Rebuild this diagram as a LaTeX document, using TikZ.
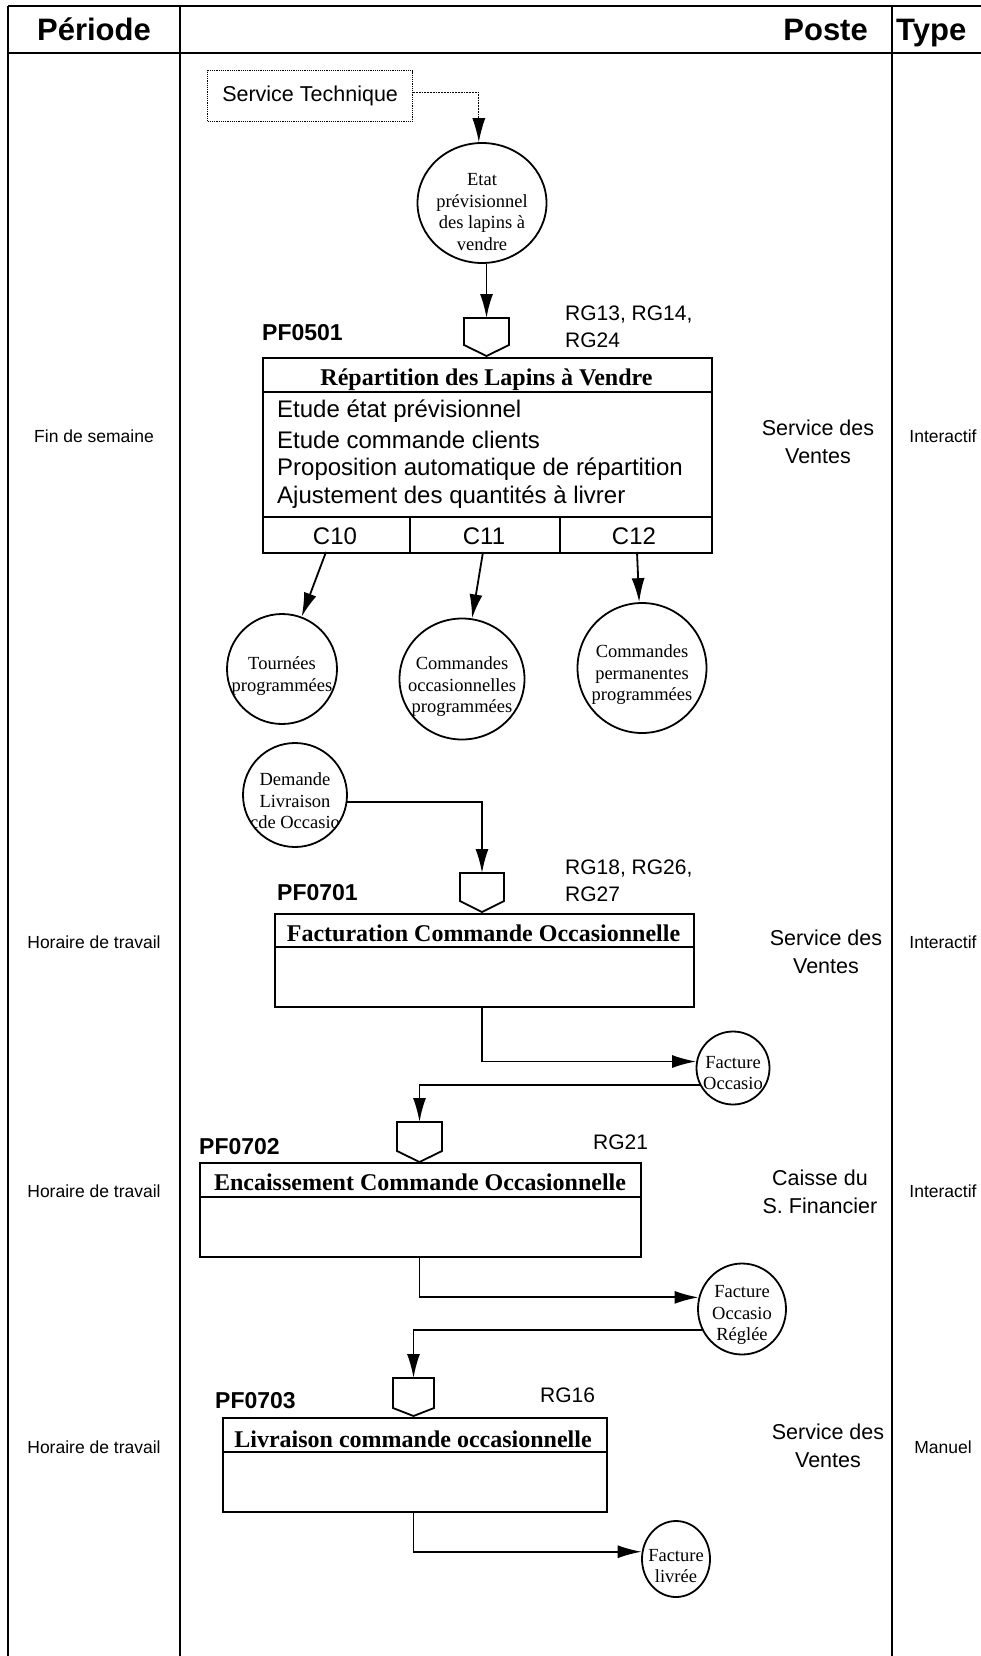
\documentclass[tikz,border=0pt]{standalone}
\usepackage{fontspec}
\setmainfont{Liberation Serif}
\setsansfont{Liberation Sans}
\usetikzlibrary{arrows.meta,shapes.geometric}
\tikzset{
 frame/.style={line width=2pt},
 ln/.style={line width=1.8pt},
 arr/.style={ln,-{Latex[length=24pt,width=13pt]}},
 txt/.style={inner sep=0pt},
 hdr/.style={txt,font=\sffamily\bfseries\fontsize{31}{36}\selectfont},
 side/.style={txt,font=\sffamily\fontsize{17.5}{21}\selectfont},
 poste/.style={txt,align=center,font=\sffamily\fontsize{21.5}{28}\selectfont},
 pf/.style={txt,anchor=west,font=\sffamily\bfseries\fontsize{23}{27}\selectfont},
 rg/.style={txt,anchor=west,align=left,font=\sffamily\fontsize{21}{27}\selectfont},
 ttl/.style={txt,font=\rmfamily\bfseries\fontsize{24}{28}\selectfont},
 body/.style={txt,anchor=west,font=\sffamily\fontsize{24}{29}\selectfont},
 store/.style={draw,ln,ellipse,inner sep=0pt},
 ctxt/.style={txt,align=center,font=\rmfamily\fontsize{18.5}{21.5}\selectfont},
 proc/.style={draw,ln,anchor=north west,inner sep=0pt},
}
\newcommand\pentg[6]{%
 \draw[ln] (#2,#4) -- (#3,#4) -- (#3,#5) -- ({(#2+#3)/2},#6) -- (#2,#5) -- cycle;
 \coordinate (#1) at ({(#2+#3)/2},#4);}
\newcommand\storenode[7]{%
 \node[store,minimum width=#4pt,minimum height=#5pt] (#1) at (#2,#3) {};
 \begin{scope}
 \clip (#2,#3) ellipse [x radius=#4pt/2, y radius=#5pt/2];
 \node[ctxt] (#1t) at (#2,{#3+#7}) {#6};
 \end{scope}}
\begin{document}
\begin{tikzpicture}[x=1pt,y=-1pt]
\useasboundingbox (0,0) rectangle (981,1656);
% frame
\draw[frame] (8,6) -- (981,6);
\draw[frame] (8,53) -- (981,53);
\draw[frame] (8,6) -- (8,1656);
\draw[frame] (180,6) -- (180,1656);
\draw[frame] (892,6) -- (892,1656);
\node[hdr,anchor=base] (hper) at (94,41) {Période};
\node[hdr,anchor=base east] (hpos) at (868,41) {Poste};
\node[hdr,anchor=base west] (htyp) at (896,41) {Type};
% side labels
\node[side] (per1) at (94,436) {Fin de semaine};
\node[side] (per2) at (94,942) {Horaire de travail};
\node[side] (per3) at (94,1191) {Horaire de travail};
\node[side] (per4) at (94,1447) {Horaire de travail};
\node[side] (typ1) at (943,436) {Interactif};
\node[side] (typ2) at (943,942) {Interactif};
\node[side] (typ3) at (943,1191) {Interactif};
\node[side] (typ4) at (943,1447) {Manuel};
\node[poste] (pos1) at (818,442) {Service des\\Ventes};
\node[poste] (pos2) at (826,952) {Service des\\Ventes};
\node[poste] (pos3) at (820,1192) {Caisse du\\S. Financier};
\node[poste] (pos4) at (828,1446) {Service des\\Ventes};
% Service technique
\node[draw,densely dotted,line width=1.2pt,anchor=north west,minimum width=205pt,minimum height=51pt,inner sep=0pt,
 font=\sffamily\fontsize{21.5}{26}\selectfont] (st) at (207,70) {Service Technique};
% stores
\storenode{etat}{482}{203}{129}{120}{Etat\\prévisionnel\\des lapins à\\vendre}{9}
\storenode{tour}{282}{669}{110}{110}{Tournées\\programmées}{7}
\storenode{occ}{462}{679}{125}{121}{Commandes\\occasionnelles\\programmées}{8}
\storenode{perm}{642}{668}{129}{130}{Commandes\\permanentes\\programmées}{7}
\storenode{dem}{295}{795}{104}{104}{Demande\\Livraison\\cde Occasio}{6}
\storenode{fo}{733}{1068}{73}{73}{Facture\\Occasio}{5}
\storenode{fr}{742}{1309}{88}{91}{Facture\\Occasio\\Réglée}{6}
\storenode{fl}{676}{1559}{68}{76}{Facture\\livrée}{7}
% pentagons
\pentg{p1}{464}{509}{318}{345}{356}
\pentg{p2}{460}{504}{873}{901}{912}
\pentg{p3}{397}{442}{1122}{1151}{1162}
\pentg{p4}{393}{434}{1378}{1408}{1416}
% process 1
\node[proc,minimum width=449pt,minimum height=195pt] (b1) at (262,357) {};
\draw[ln] (262,392) -- (711,392);
\draw[ln] (262,517) -- (711,517);
\draw[ln] (410,517) -- (410,552);
\draw[ln] (560,517) -- (560,552);
\node[ttl] (b1t) at (486.5,380) {Répartition des Lapins à Vendre};
\node[body] (b1l1) at (277,411) {Etude état prévisionnel};
\node[body] (b1l2) at (277,440) {Etude commande clients};
\node[body] (b1l3) at (277,469) {Proposition automatique de répartition};
\node[body] (b1l4) at (277,497) {Ajustement des quantités à livrer};
\node[txt,font=\sffamily\fontsize{24}{29}\selectfont] (c10) at (335,536) {C10};
\node[txt,font=\sffamily\fontsize{24}{29}\selectfont] (c11) at (484,536) {C11};
\node[txt,font=\sffamily\fontsize{24}{29}\selectfont] (c12) at (634,536) {C12};
\node[pf] (pf1) at (262,333) {PF0501};
\node[rg] (rg1) at (565,326.5) {RG13, RG14,\\RG24};
\coordinate (c10o) at (326,552);
\coordinate (c11o) at (483,552);
\coordinate (c12o) at (637,552);
% process 2
\node[proc,minimum width=419pt,minimum height=93pt] (b2) at (274,913) {};
\draw[ln] (274,947) -- (693,947);
\node[ttl] (b2t) at (483.5,933) {Facturation Commande Occasionnelle};
\node[pf] (pf2) at (277,893) {PF0701};
\node[rg] (rg2) at (565,881) {RG18, RG26,\\RG27};
% process 3
\node[proc,minimum width=441pt,minimum height=94pt] (b3) at (199,1162) {};
\draw[ln] (199,1197) -- (640,1197);
\node[ttl] (b3t) at (420,1182) {Encaissement Commande Occasionnelle};
\node[pf] (pf3) at (199,1147) {PF0702};
\node[rg] (rg3) at (593,1142) {RG21};
% process 4
\node[proc,minimum width=384pt,minimum height=94pt] (b4) at (222,1417) {};
\draw[ln] (222,1452) -- (606,1452);
\node[ttl] (b4t) at (413,1439) {Livraison commande occasionnelle};
\node[pf] (pf4) at (215,1401) {PF0703};
\node[rg] (rg4) at (540,1395) {RG16};
% connectors
\draw[arr,densely dotted,line width=1.2pt] (st.2) -| (etat.93);
\draw[arr] (etat.south -| p1) -- (p1);
\draw[arr] (c10o) -- (tour);
\draw[arr] (c11o) -- (occ);
\draw[arr] (c12o) -- (perm);
\draw[arr] (dem.-8) -| (p2);
\draw[arr] (p2 |- b2.south) |- (fo.170);
\draw[arr] (fo.207) -| (p3);
\draw[arr] (p3 |- b3.south) |- (fr.165);
\draw[arr] (fr.208) -| (p4);
\draw[arr] (p4 |- b4.south) |- (fl.168);
\end{tikzpicture}
\end{document}
